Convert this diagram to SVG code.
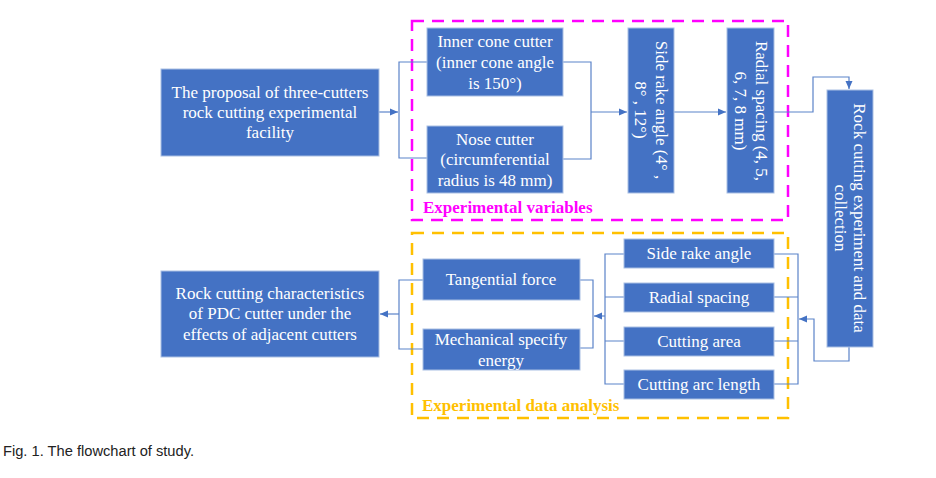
<svg xmlns="http://www.w3.org/2000/svg" width="936" height="478" viewBox="0 0 936 478">
<defs>
<marker id="arr" markerUnits="userSpaceOnUse" markerWidth="8" markerHeight="8" refX="8" refY="4" orient="auto">
<path d="M0,0.5 L8,4 L0,7.5 Z" fill="#4472C4"/>
</marker>
<style>
.box{fill:#4472C4;stroke:#A9BFE3;stroke-width:1}
.t{font-family:"Liberation Serif","Times New Roman",serif;font-size:17px;fill:#fff;text-anchor:middle}
.c{fill:none;stroke:#5B83C9;stroke-width:1.2}
.a{marker-end:url(#arr)}
.lbl{font-family:"Liberation Serif","Times New Roman",serif;font-size:17px;font-weight:bold}
</style>
</defs>
<rect width="936" height="478" fill="#fff"/>

<g id="frame-variables">
<rect x="412" y="21" width="376" height="199" fill="none" stroke="#FF00FF" stroke-width="2.5" stroke-dasharray="12,8"/>
<text class="lbl" x="423" y="213" fill="#FF00FF">Experimental variables</text>
</g>
<g id="frame-analysis">
<rect x="412" y="233" width="376" height="185" fill="none" stroke="#FFC000" stroke-width="2.5" stroke-dasharray="12,8"/>
<text class="lbl" x="422" y="411" fill="#FFC000">Experimental data analysis</text>
</g>

<g id="connectors">
<path class="c a" d="M379,112 H398"/>
<path class="c" d="M427,62 H399 V158 H427"/>
<path class="c" d="M563,62 H591 V159 H563"/>
<path class="c a" d="M591,112 H627"/>
<path class="c a" d="M674,112 H726"/>
<path class="c a" d="M774,112 H813 V77 H849 V89"/>
<path class="c a" d="M849,347 V361 H814 V319 H799"/>
<path class="c" d="M774,254 H798 V384 H774 M774,297 H798 M774,341 H798"/>
<path class="c" d="M624,254 H605 V384 H624 M605,297 H624 M605,341 H624"/>
<path class="c a" d="M605,316 H594"/>
<path class="c" d="M580,280 H593 V348 H580"/>
<path class="c" d="M423,280 H399 V349 H423"/>
<path class="c a" d="M399,314 H380"/>
</g>

<g id="proposal">
<rect class="box" x="161" y="69" width="218" height="87"/>
<text class="t" x="270" y="98">The proposal of three-cutters</text>
<text class="t" x="270" y="118">rock cutting experimental</text>
<text class="t" x="270" y="138">facility</text>
</g>

<g id="inner-cone">
<rect class="box" x="427" y="28" width="136" height="68"/>
<text class="t" x="495" y="47">Inner cone cutter</text>
<text class="t" x="495" y="68">(inner cone angle</text>
<text class="t" x="495" y="89">is  150°)</text>
</g>

<g id="nose-cutter">
<rect class="box" x="427" y="126" width="136" height="67"/>
<text class="t" x="495" y="145">Nose cutter</text>
<text class="t" x="495" y="165">(circumferential</text>
<text class="t" x="495" y="186">radius is 48 mm)</text>
</g>

<g id="side-rake-var">
<rect class="box" x="628" y="28" width="46" height="165"/>
<g transform="translate(651,110) rotate(90)">
<text class="t" x="0" y="-5">Side rake angle (4° ,</text>
<text class="t" x="0" y="16">8° , 12°)</text>
</g>
</g>

<g id="radial-spacing-var">
<rect class="box" x="727" y="28" width="47" height="165"/>
<g transform="translate(750,111) rotate(90)">
<text class="t" x="0" y="-6">Radial spacing (4, 5,</text>
<text class="t" x="0" y="15">6, 7, 8 mm)</text>
</g>
</g>

<g id="rock-cutting-exp">
<rect class="box" x="827" y="90" width="46" height="257"/>
<g transform="translate(850,218) rotate(90)">
<text class="t" x="0" y="-4">Rock cutting experiment and data</text>
<text class="t" x="0" y="15">collection</text>
</g>
</g>

<g id="side-rake">
<rect class="box" x="624" y="239" width="150" height="29"/>
<text class="t" x="699" y="259">Side rake angle</text>
</g>
<g id="radial-spacing">
<rect class="box" x="624" y="283" width="150" height="29"/>
<text class="t" x="699" y="303">Radial spacing</text>
</g>
<g id="cutting-area">
<rect class="box" x="624" y="327" width="150" height="29"/>
<text class="t" x="699" y="347">Cutting area</text>
</g>
<g id="cutting-arc">
<rect class="box" x="624" y="370" width="150" height="29"/>
<text class="t" x="699" y="390">Cutting arc length</text>
</g>

<g id="tangential-force">
<rect class="box" x="423" y="259" width="157" height="41"/>
<text class="t" x="501" y="285">Tangential force</text>
</g>
<g id="mse">
<rect class="box" x="423" y="329" width="157" height="41"/>
<text class="t" x="501" y="345">Mechanical specify</text>
<text class="t" x="501" y="366">energy</text>
</g>

<g id="characteristics">
<rect class="box" x="161" y="271" width="218" height="86"/>
<text class="t" x="270" y="299">Rock cutting characteristics</text>
<text class="t" x="270" y="319">of PDC cutter under the</text>
<text class="t" x="270" y="340">effects of adjacent cutters</text>
</g>

<text x="3" y="456" font-family="'Liberation Sans',Arial,sans-serif" font-size="14" fill="#222" textLength="191" lengthAdjust="spacingAndGlyphs">Fig. 1. The flowchart of study.</text>
</svg>
